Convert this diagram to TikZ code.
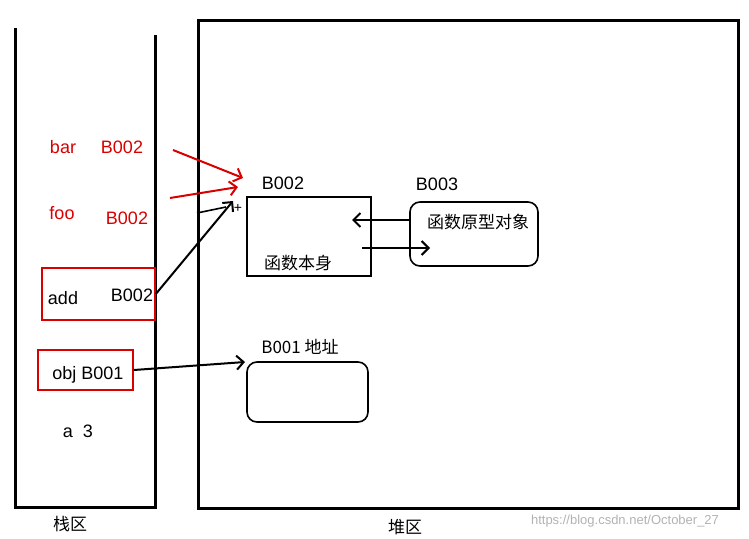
\documentclass[tikz,border=0pt]{standalone}
\usepackage{fontspec}
\setmainfont{Liberation Sans}
\newfontfamily\cjk{Noto Sans CJK SC}
\usetikzlibrary{arrows.meta}
\begin{document}
\begin{tikzpicture}[x=1pt,y=-1pt,
  txt/.style={font=\fontsize{18}{20}\selectfont,inner sep=0pt},
  rtxt/.style={txt,text=red!85!black},
  ctxt/.style={font=\cjk\fontsize{17}{19}\selectfont,inner sep=0pt},
  wall/.style={line width=3pt},
  box/.style={line width=1.6pt},
  rbox/.style={line width=1.6pt,draw=red!85!black},
  arr/.style={line width=2pt,-{Straight Barb[length=7pt]}},
  rarr/.style={arr,draw=red!85!black}]
\useasboundingbox (0,0) rectangle (749,538);
% stack
\coordinate (s1) at (15,28); \coordinate (s2) at (15,507);
\coordinate (s3) at (155,507); \coordinate (s4) at (155,35);
\draw[wall] (s1) -- (s2) -- (s3) -- (s4);
\node[ctxt] (stk) at (70,524) {栈区};
% heap
\draw[wall] (198,20) rectangle (738,508);
\node[ctxt] (hp) at (405,527) {堆区};
% stack contents
\node[rtxt] (bar) at (63,147) {bar};
\node[rtxt] (barv) at (122,147) {B002};
\node[rtxt] (foo) at (62,213) {foo};
\node[rtxt] (foov) at (127,218) {B002};
\node[txt] (add) at (63,298) {add};
\node[txt] (addv) at (132,295) {B002};
\node[rbox,minimum width=113pt,minimum height=52pt] (addbox) at (98.5,294) {};
\node[txt] (obj) at (88,375) {obj B001};
\node[rbox,minimum width=95pt,minimum height=40pt] (objbox) at (85.5,370) {};
\node[txt] (a) at (78,431) {a\ \ 3};
% heap objects
\node[box,draw,minimum width=124pt,minimum height=79pt] (fn) at (309,236.5) {};
\node[txt] (fnl) at (283,183) {B002};
\node[ctxt] (fnt) at (298,263) {函数本身};
\node[box,draw,rounded corners=10pt,minimum width=128pt,minimum height=64pt] (pr) at (474,234) {};
\node[txt] (prl) at (437,184) {B003};
\node[ctxt] (prt) at (478,222) {函数原型对象};
\node[box,draw,rounded corners=10pt,minimum width=121pt,minimum height=60pt] (ob) at (307.5,392) {};
\node[ctxt] (obl) at (300,347) {B001 地址};
\node[font=\fontsize{14}{14}\selectfont,inner sep=0pt] (plus) at (238,208) {+};
% connectors
\coordinate (r1s) at (173,150); \coordinate (r1e) at (243,178);
\coordinate (r2s) at (170,198); \coordinate (r2e) at (238,187);
\draw[rarr] (r1s) -- (r1e);
\draw[rarr] (r2s) -- (r2e);
\coordinate (p1) at (226,207);
\coordinate (p2) at (233,201);
\draw[line width=1.6pt] (197,213) -- (p1);
\draw[arr] (addbox.east) -- (p2);
\draw[arr] (pr.west |- 0,220) -- (352,220);
\draw[arr] (362,248) -- (430,248);
\draw[arr] (objbox.east) -- (245,362);
\node[text=gray!60,font=\fontsize{13}{14}\selectfont,inner sep=0pt] (wm) at (625,521) {https://blog.csdn.net/October\_27};
\end{tikzpicture}
\end{document}
